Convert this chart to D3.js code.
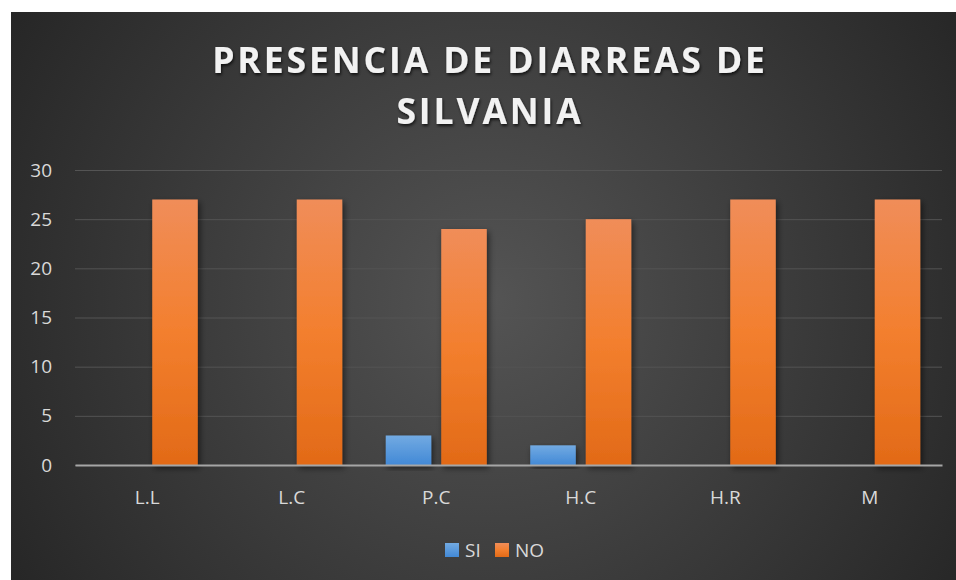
<!DOCTYPE html>
<html>
<head>
<meta charset="utf-8">
<script src="https://cdn.jsdelivr.net/npm/d3@7"></script>
<style>
	body { margin: 0; background: #ffffff; }
	svg { display: block; }
	text { font-family: "Open Sans", "DejaVu Sans", sans-serif; }
</style>
</head>
<body>
<div class="chart"></div>
<script>
var categories = ["L.L", "L.C", "P.C", "H.C", "H.R", "M"];
var series_keys = ["SI", "NO"];
var si_values = [0, 0, 3, 2, 0, 0];
var no_values = [27, 27, 24, 25, 27, 27];
var y_ticks = [0, 5, 10, 15, 20, 25, 30];
var title_lines = ["PRESENCIA DE DIARREAS DE", "SILVANIA"];

var width = 956, height = 580;
var plot = {left: 75, right: 942, top: 170, bottom: 465};

var svg = d3.select("div.chart")
	.append("svg")
	.attr("width", width)
	.attr("height", height);

var defs = svg.append("defs");

var bg = defs.append("radialGradient")
	.attr("id", "bg")
	.attr("gradientUnits", "userSpaceOnUse")
	.attr("cx", 490).attr("cy", 300).attr("r", 560);
bg.append("stop").attr("offset", "0").attr("stop-color", "#545454");
bg.append("stop").attr("offset", "1").attr("stop-color", "#262626");

var gradOrange = defs.append("linearGradient")
	.attr("id", "g-NO").attr("x1", 0).attr("y1", 0).attr("x2", 0).attr("y2", 1);
gradOrange.append("stop").attr("offset", "0").attr("stop-color", "#f08d59");
gradOrange.append("stop").attr("offset", "0.5").attr("stop-color", "#f37f2e");
gradOrange.append("stop").attr("offset", "1").attr("stop-color", "#e26a17");

var gradBlue = defs.append("linearGradient")
	.attr("id", "g-SI").attr("x1", 0).attr("y1", 0).attr("x2", 0).attr("y2", 1);
gradBlue.append("stop").attr("offset", "0").attr("stop-color", "#72aae2");
gradBlue.append("stop").attr("offset", "1").attr("stop-color", "#4289d6");

var shadow = defs.append("filter").attr("id", "shadow")
	.attr("x", "-20%").attr("y", "-10%").attr("width", "150%").attr("height", "130%");
shadow.append("feDropShadow")
	.attr("dx", 2).attr("dy", 3).attr("stdDeviation", 3)
	.attr("flood-color", "#000").attr("flood-opacity", 0.55);

var tshadow = defs.append("filter").attr("id", "tshadow")
	.attr("x", "-5%").attr("y", "-20%").attr("width", "110%").attr("height", "150%");
tshadow.append("feDropShadow")
	.attr("dx", 1).attr("dy", 2).attr("stdDeviation", 1.5)
	.attr("flood-color", "#000").attr("flood-opacity", 0.7);

// chart background
svg.append("rect")
	.attr("x", 11).attr("y", 12)
	.attr("width", width - 11).attr("height", height - 12)
	.attr("fill", "url(#bg)");

// title
svg.append("g").classed("title", true)
	.selectAll("text")
	.data(title_lines)
	.enter()
	.append("text")
	.attr("x", 490)
	.attr("y", function(d, i){ return 73 + i * 51; })
	.attr("text-anchor", "middle")
	.attr("fill", "#f2f2f2")
	.attr("filter", "url(#tshadow)")
	.style("font-size", "35.5px")
	.style("font-weight", "bold")
	.style("letter-spacing", "2.9px")
	.text(function(d){ return d; });

var xScale = d3.scaleBand().domain(categories).range([plot.left, plot.right]);
var groupW = 101;
var outer = (xScale.bandwidth() - groupW) / 2;
var x1 = d3.scaleBand().domain(series_keys)
	.range([outer, outer + groupW]).paddingInner(0.18);
var yScale = d3.scaleLinear().domain([0, 30]).range([plot.bottom, plot.top]);

// y axis with grid
var yAxis = svg.append("g")
	.classed("y axis", true)
	.attr("transform", "translate(" + plot.left + ",0)")
	.call(d3.axisLeft(yScale).tickValues(y_ticks)
		.tickSize(-(plot.right - plot.left)).tickPadding(23));
yAxis.select(".domain").remove();
yAxis.selectAll(".tick line")
	.attr("stroke", "#545454").attr("stroke-width", 1);
yAxis.selectAll(".tick text")
	.attr("fill", "#d9d9d9")
	.style("font-size", "19px");

// bars
var rows = categories.map(function(c, i){
	return {cat: c, values: [{key: "SI", value: si_values[i]}, {key: "NO", value: no_values[i]}]};
});

var groups = svg.append("g").classed("bars", true)
	.selectAll("g.group")
	.data(rows)
	.enter()
	.append("g")
	.classed("group", true)
	.attr("transform", function(d){ return "translate(" + xScale(d.cat) + ",0)"; });

groups.selectAll("rect")
	.data(function(d){ return d.values.filter(function(e){ return e.value > 0; }); })
	.enter()
	.append("rect")
	.attr("x", function(d){ return x1(d.key); })
	.attr("width", x1.bandwidth())
	.attr("y", function(d){ return yScale(d.value); })
	.attr("height", function(d){ return yScale(0) - yScale(d.value); })
	.attr("fill", function(d){ return "url(#g-" + d.key + ")"; })
	.attr("filter", "url(#shadow)");

// x axis
var xAxis = svg.append("g")
	.classed("x axis", true)
	.attr("transform", "translate(0," + plot.bottom + ")")
	.call(d3.axisBottom(xScale).tickSize(0).tickPadding(26));
xAxis.select(".domain")
	.attr("stroke", "#a6a6a6").attr("stroke-width", 2);
xAxis.selectAll(".tick text")
	.attr("fill", "#d9d9d9")
	.style("font-size", "19px");

// legend
var legend = svg.append("g").classed("legend", true)
	.selectAll("g")
	.data(series_keys)
	.enter()
	.append("g")
	.attr("transform", function(d, i){ return "translate(" + (445 + i * 50) + ",543)"; });
legend.append("rect")
	.attr("width", 14).attr("height", 14)
	.attr("fill", function(d){ return "url(#g-" + d + ")"; });
legend.append("text")
	.attr("x", 20).attr("y", 14)
	.attr("fill", "#d9d9d9")
	.style("font-size", "19px")
	.text(function(d){ return d; });
</script>
</body>
</html>
